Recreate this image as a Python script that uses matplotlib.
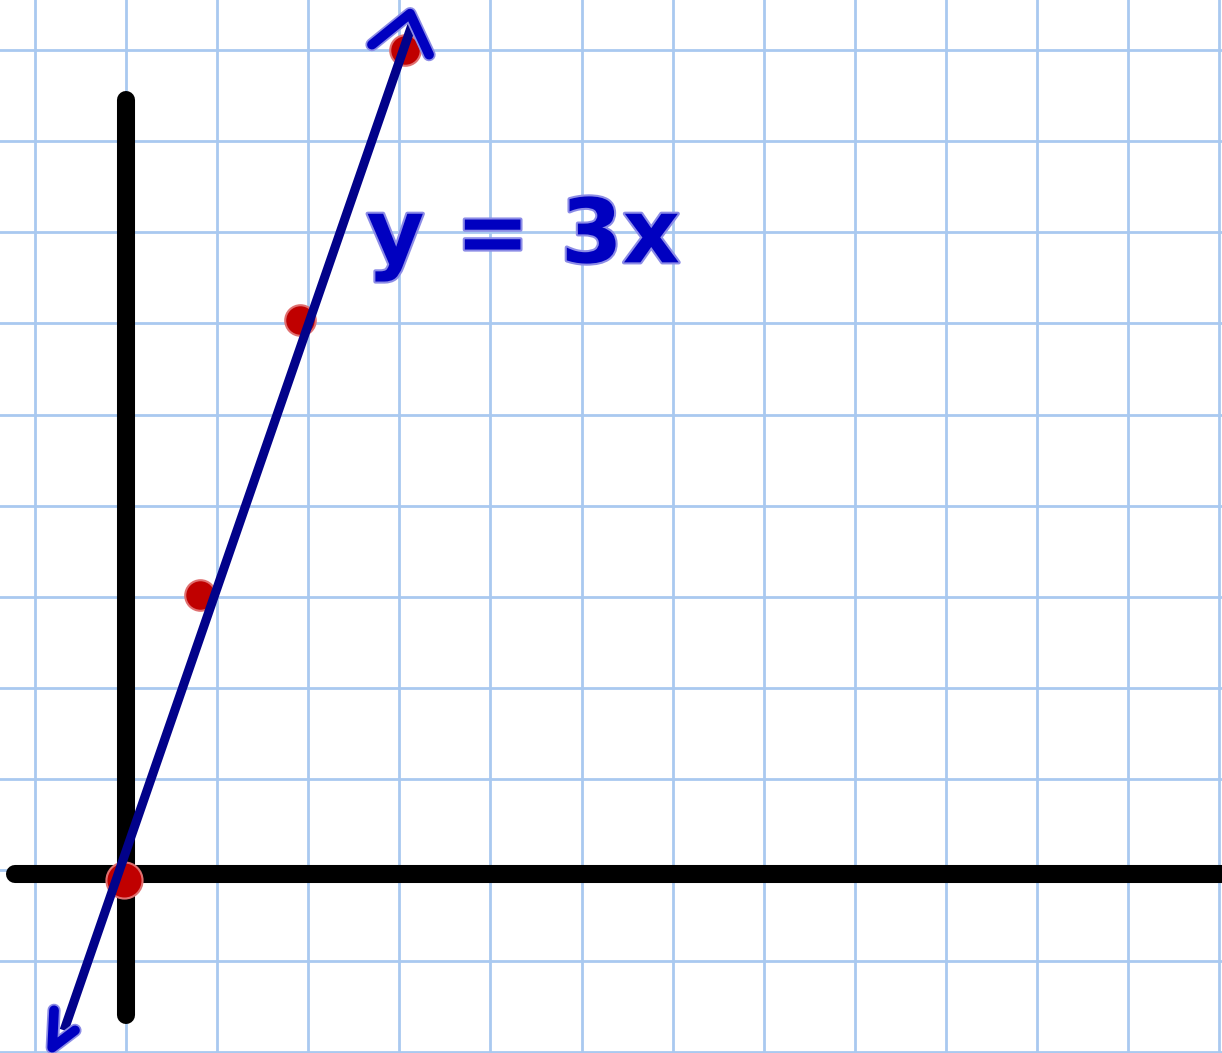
import matplotlib.pyplot as plt
import matplotlib.patheffects as pe
import numpy as np

# grid-unit values (1 grid square = 1 unit)
grid_x = np.arange(-1, 13)
grid_y = np.arange(-2, 10)

# hand drawn axes
xaxis_x = [-1.22, 12.5]
xaxis_y = [-0.044, -0.044]
yaxis_x = [0.005, 0.005]
yaxis_y = [8.45, -1.59]

# red dots (drawn a bit off the exact points)
dot_x = [-0.02, 0.81, 1.91, 3.06]
dot_y = [-0.11, 3.02, 6.04, 9.00]
dot_size = [26, 22, 22, 22]

# blue line y = 3x as drawn
line_x = [-0.68, 3.14]
line_y = [-1.76, 9.28]

# arrow heads: barb1, tip, barb2
top_head_x = [2.70, 3.118, 3.327]
top_head_y = [9.06, 9.40, 8.95]
bot_head_x = [-0.79, -0.81, -0.56]
bot_head_y = [-1.54, -1.95, -1.76]

label = "y = 3x"
label_pos = (2.64, 6.67)

fig = plt.figure(figsize=(12.22, 10.53), dpi=100)
ax = fig.add_axes([0, 0, 1, 1])
ax.set_xlim(-126 / 91.1, (1222 - 126) / 91.1)
ax.set_ylim(-(1053 - 870) / 91.1, 870 / 91.1)
ax.axis("off")

grid_col = "#a9c9f0"
for gx in grid_x:
    ax.axvline(gx, color=grid_col, lw=2.0, zorder=1)
for gy in grid_y:
    ax.axhline(gy, color=grid_col, lw=2.0, zorder=1)

ax.plot(xaxis_x, xaxis_y, color="black", lw=13, solid_capstyle="round", zorder=2)
ax.plot(yaxis_x, yaxis_y, color="black", lw=13, solid_capstyle="round", zorder=2)

for x, y, s in zip(dot_x, dot_y, dot_size):
    ax.plot(x, y, "o", ms=s, color="#c00000", mec="#e07070", mew=1.5, zorder=3)

ax.plot(line_x, line_y, color="#02028a", lw=6.5, solid_capstyle="butt", zorder=4)

halo = [pe.Stroke(linewidth=9.5, foreground="#8c8ce6"), pe.Normal()]
for hx, hy in [(top_head_x, top_head_y), (bot_head_x, bot_head_y)]:
    ax.plot(hx, hy, color="#0000c0", lw=7, solid_capstyle="round",
            solid_joinstyle="round", path_effects=halo, zorder=5)

ax.text(label_pos[0], label_pos[1], label, fontsize=64, color="#0000c0",
        fontweight="bold", va="baseline", ha="left",
        path_effects=[pe.Stroke(linewidth=3, foreground="#8c8ce6"), pe.Normal()],
        zorder=5)

fig.savefig("out.png", dpi=100)
